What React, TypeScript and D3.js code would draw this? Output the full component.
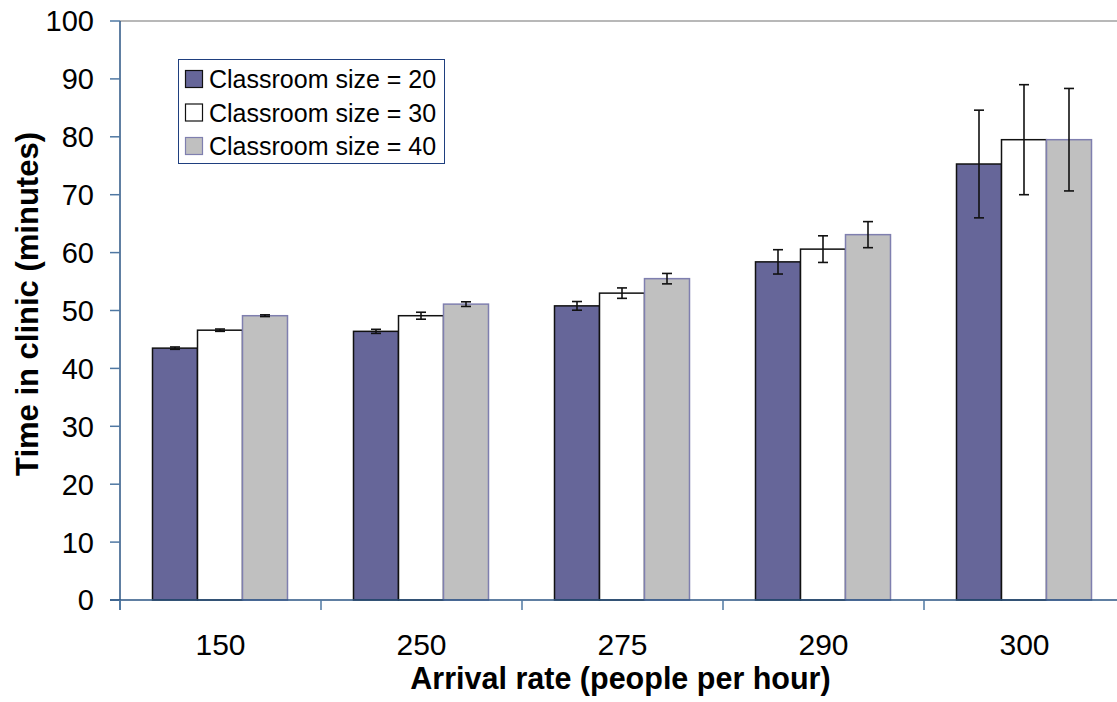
import React from "react";
import * as d3 from "d3";

const categories = ["150", "250", "275", "290", "300"];
const seriesNames = ["Classroom size = 20", "Classroom size = 30", "Classroom size = 40"];
const size20 = [43.5, 46.4, 50.8, 58.4, 75.3];
const size30 = [46.6, 49.1, 53.0, 60.6, 79.5];
const size40 = [49.1, 51.1, 55.5, 63.1, 79.5];
const err20 = [0.2, 0.35, 0.75, 2.1, 9.3];
const err30 = [0.2, 0.6, 0.9, 2.3, 9.5];
const err40 = [0.15, 0.4, 0.9, 2.25, 8.85];
const yTicks = [0, 10, 20, 30, 40, 50, 60, 70, 80, 90, 100];

const values = [size20, size30, size40];
const errors = [err20, err30, err40];
const fills = ["#666699", "#FFFFFF", "#C0C0C0"];
const strokes = ["#111111", "#111111", "#7F7FAF"];

const W = 1117;
const H = 702;
const left = 120;
const right = 1125;
const top = 21;
const bottom = 600;
const font = "'Liberation Sans', Arial, Helvetica, sans-serif";
const axisColor = "#2B5583";
const tickColor = "#4F78A3";

export default function App() {
  const x = d3.scaleBand<string>().domain(categories).range([left, right]).padding(0);
  const bw = x.bandwidth();
  const x1 = d3
    .scaleBand<string>()
    .domain(seriesNames)
    .range([32.5, bw - 33.5])
    .padding(0);
  const y = d3.scaleLinear().domain([0, 100]).range([bottom, top]);

  return (
    <svg
      width={W}
      height={H}
      style={{ position: "absolute", left: 0, top: 0, background: "#fff" }}
      fontFamily={font}
    >
      <rect x={0} y={0} width={W} height={H} fill="#fff" />
      {/* top border of plot area */}
      <line x1={left} x2={right} y1={top} y2={top} stroke="#A0A0A0" strokeWidth={1.5} />

      {/* bars */}
      {seriesNames.map((s, si) =>
        categories.map((c, ci) => {
          const v = values[si][ci];
          const bx = (x(c) as number) + (x1(s) as number);
          return (
            <rect
              key={s + c}
              x={bx}
              y={y(v)}
              width={x1.bandwidth()}
              height={y(0) - y(v)}
              fill={fills[si]}
              stroke={strokes[si]}
              strokeWidth={1.5}
            />
          );
        })
      )}

      {/* error bars */}
      {seriesNames.map((s, si) =>
        categories.map((c, ci) => {
          const v = values[si][ci];
          const e = errors[si][ci];
          const cx = (x(c) as number) + (x1(s) as number) + x1.bandwidth() / 2;
          const hi = y(v + e);
          const lo = y(v - e);
          return (
            <g key={"e" + s + c} stroke="#111" strokeWidth={1.6}>
              <line x1={cx} x2={cx} y1={hi} y2={lo} />
              <line x1={cx - 5} x2={cx + 5} y1={hi} y2={hi} />
              <line x1={cx - 5} x2={cx + 5} y1={lo} y2={lo} />
            </g>
          );
        })
      )}

      {/* y axis */}
      <line x1={left} x2={left} y1={top} y2={bottom + 10} stroke={axisColor} strokeWidth={1.5} />
      {yTicks.map((t) => (
        <g key={"yt" + t}>
          <line x1={left - 10} x2={left} y1={y(t)} y2={y(t)} stroke={tickColor} strokeWidth={1.5} />
          <text x={94} y={y(t) + 10.4} textAnchor="end" fontSize={29} fill="#000">
            {t}
          </text>
        </g>
      ))}

      {/* x axis */}
      <line x1={left - 10} x2={right} y1={bottom} y2={bottom} stroke={axisColor} strokeWidth={1.5} />
      {categories.map((c) => (
        <line
          key={"xt" + c}
          x1={x(c) as number}
          x2={x(c) as number}
          y1={bottom}
          y2={bottom + 10}
          stroke={tickColor}
          strokeWidth={1.5}
        />
      ))}
      {categories.map((c) => (
        <text
          key={"xl" + c}
          x={(x(c) as number) + bw / 2}
          y={655}
          textAnchor="middle"
          fontSize={30}
          fill="#000"
        >
          {c}
        </text>
      ))}

      {/* axis titles */}
      <text x={620.5} y={689} textAnchor="middle" fontSize={30.5} fontWeight="bold" fill="#000">
        Arrival rate (people per hour)
      </text>
      <text
        transform={`translate(38,304) rotate(-90)`}
        textAnchor="middle"
        fontSize={31}
        fontWeight="bold"
        fill="#000"
      >
        Time in clinic (minutes)
      </text>

      {/* legend */}
      <rect x={178.5} y={59.5} width={266} height={104} fill="#fff" stroke="#1F3F7F" strokeWidth={1} />
      {seriesNames.map((s, i) => {
        const cy = 79 + i * 33.5;
        return (
          <g key={"lg" + s}>
            <rect
              x={185.5}
              y={cy - 8.5}
              width={17}
              height={17}
              fill={fills[i]}
              stroke={strokes[i]}
              strokeWidth={1.2}
            />
            <text x={209} y={cy + 9} fontSize={25} fill="#000">
              {s}
            </text>
          </g>
        );
      })}
    </svg>
  );
}
